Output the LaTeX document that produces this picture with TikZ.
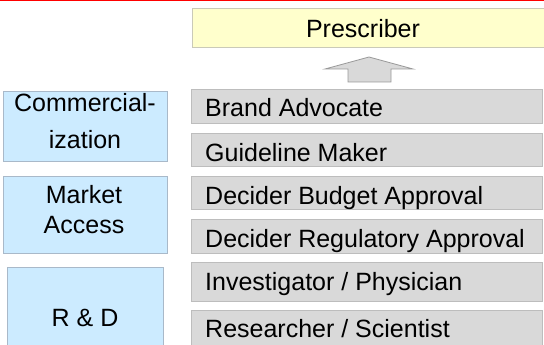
\documentclass[tikz,border=0pt]{standalone}
\usepackage{fontspec}
\setmainfont{Liberation Sans}
\definecolor{roleFill}{HTML}{D9D9D9}
\definecolor{roleLine}{HTML}{BDBDBD}
\definecolor{areaFill}{HTML}{CCEBFF}
\definecolor{areaLine}{HTML}{A9B9C9}
\definecolor{topFill}{HTML}{FFFFCC}
\definecolor{topLine}{HTML}{CACAB8}
\definecolor{upFill}{HTML}{D9D9D9}
\definecolor{upLine}{HTML}{9A9A9A}
\begin{document}
\begin{tikzpicture}[x=1pt,y=-1pt,
  font=\fontsize{25}{30}\selectfont,
  box/.style={rectangle, inner sep=0pt, line width=1pt, anchor=north west},
  role/.style={box, draw=roleLine, fill=roleFill, minimum width=351pt},
  area/.style={box, draw=areaLine, fill=areaFill},
  goal/.style={box, draw=topLine, fill=topFill},
  txt/.style={inner sep=0pt, text=black}]
\useasboundingbox (0,0) rectangle (544,345);
\clip (0,0) rectangle (544,345);

% top rule
\draw[red, line width=1.6pt] (0,0.6) -- (544,0.6);

% target role
\node[goal, minimum width=356pt, minimum height=39pt] (presc) at (192,8) {};
\node[txt, anchor=base] (prescT) at (363,38) {Prescriber};

% upward block arrow
\filldraw[fill=upFill, draw=upLine, line width=0.8pt]
  (348,82) -- (348,69) -- (325,69) -- (369,57) -- (413,69)
  -- (391,69) -- (391,82) -- cycle;

% roles
\node[role, minimum height=34pt] (brand) at (191,89) {};
\node[role, minimum height=33pt] (guide) at (191,133) {};
\node[role, minimum height=33pt] (budget) at (191,176) {};
\node[role, minimum height=34pt] (regul) at (191,219) {};
\node[role, minimum height=39pt] (invest) at (191,262) {};
\node[role, minimum height=42pt] (research) at (191,310) {};

\node[txt, anchor=base west] (brandT) at (205,117) {Brand Advocate};
\node[txt, anchor=base west] (guideT) at (205,161) {Guideline Maker};
\node[txt, anchor=base west] (budgetT) at (205,204) {Decider Budget Approval};
\node[txt, anchor=base west] (regulT) at (205,247) {Decider Regulatory Approval};
\node[txt, anchor=base west] (investT) at (205,290) {Investigator / Physician};
\node[txt, anchor=base west] (researchT) at (205,337) {Researcher / Scientist};

% functional areas
\node[area, minimum width=164pt, minimum height=70pt] (comm) at (3,91) {};
\node[area, minimum width=164pt, minimum height=77pt] (access) at (3,176) {};
\node[area, minimum width=156pt, minimum height=85pt] (rnd) at (7,267) {};

\node[txt, anchor=base] (commT1) at (85,112) {Commercial-};
\node[txt, anchor=base] (commT2) at (85,148) {ization};
\node[txt, anchor=base] (accessT1) at (84,203) {Market};
\node[txt, anchor=base] (accessT2) at (84,233) {Access};
\node[txt, anchor=base] (rndT) at (85,326) {R \& D};
\end{tikzpicture}
\end{document}
